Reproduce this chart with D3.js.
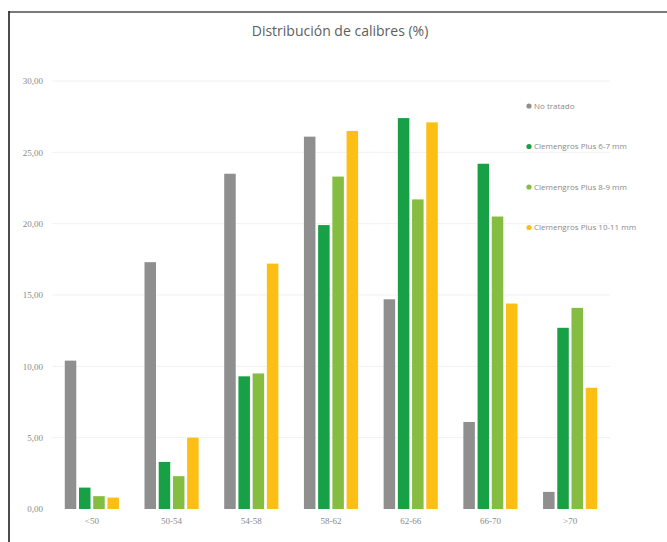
<!DOCTYPE html>
<html>
<head>
<meta charset="utf-8">
<script src="https://cdn.jsdelivr.net/npm/d3@7"></script>
<style>
  html, body { margin: 0; padding: 0; background: #fff; }
  svg { display: block; }
</style>
</head>
<body>
<svg id="chart" width="667" height="542"></svg>
<script>
// Calibre classes (mm)
const categories = ["<50", "50-54", "54-58", "58-62", "62-66", "66-70", ">70"];

// Series names and colours
const seriesNames = [
  "No tratado",
  "Clemengros Plus 6-7 mm",
  "Clemengros Plus 8-9 mm",
  "Clemengros Plus 10-11 mm"
];
const seriesColors = ["#8f8f8f", "#17a045", "#84bd3f", "#fdbf14"];

// Percentage of fruit in each calibre class, per treatment
const noTratado = [10.4, 17.3, 23.5, 26.1, 14.7, 6.1, 1.2];
const plus67    = [1.5, 3.3, 9.3, 19.9, 27.4, 24.2, 12.7];
const plus89    = [0.9, 2.3, 9.5, 23.3, 21.7, 20.5, 14.1];
const plus1011  = [0.8, 5.0, 17.2, 26.5, 27.1, 14.4, 8.5];

const yTicks = [0, 5, 10, 15, 20, 25, 30];

const seriesValues = [noTratado, plus67, plus89, plus1011];

const svg = d3.select("#chart");
const W = 667, H = 542;

// Frame lines
svg.append("line").attr("x1", 9).attr("x2", W).attr("y1", 12).attr("y2", 12)
  .attr("stroke", "#7a7a7a").attr("stroke-width", 2);
svg.append("line").attr("x1", 9).attr("x2", 9).attr("y1", 11).attr("y2", H)
  .attr("stroke", "#111").attr("stroke-width", 1.5);

// Title
svg.append("text")
  .attr("x", 340).attr("y", 36)
  .attr("text-anchor", "middle")
  .attr("font-family", "'Open Sans', 'Noto Sans', sans-serif")
  .attr("font-size", 14)
  .attr("fill", "#5e5e5e")
  .text("Distribución de calibres (%)");

const x0 = d3.scaleBand().domain(categories).range([52, 610]).padding(0);
const groupW = 57;
const x1 = d3.scaleBand().domain(d3.range(seriesNames.length))
  .range([x0.bandwidth() / 2 - groupW / 2, x0.bandwidth() / 2 + groupW / 2])
  .paddingInner(0.19).paddingOuter(0.1);

const y = d3.scaleLinear().domain([0, 30]).range([509, 81]);

const fmt = v => d3.format(".2f")(v).replace(".", ",");

// Faint gridlines
svg.append("g")
  .selectAll("line")
  .data(yTicks.slice(1))
  .join("line")
  .attr("x1", 52).attr("x2", 610)
  .attr("y1", d => y(d)).attr("y2", d => y(d))
  .attr("stroke", "#f1f1f1").attr("stroke-width", 1);

// Y axis labels
const yAxis = d3.axisLeft(y).tickValues(yTicks).tickFormat(fmt).tickSize(0).tickPadding(0);
const gy = svg.append("g").attr("transform", "translate(43,0)").call(yAxis);
gy.select(".domain").remove();
gy.selectAll("text")
  .attr("font-family", "'Liberation Serif', serif")
  .attr("font-size", 9)
  .attr("fill", "#8a8a8a");

// Bars
const groups = svg.append("g")
  .selectAll("g")
  .data(categories)
  .join("g")
  .attr("transform", d => `translate(${x0(d)},0)`);

groups.selectAll("rect")
  .data((c, i) => seriesValues.map((s, k) => ({ k, v: s[i] })))
  .join("rect")
  .attr("x", d => x1(d.k))
  .attr("width", x1.bandwidth())
  .attr("y", d => y(d.v))
  .attr("height", d => y(0) - y(d.v))
  .attr("fill", d => seriesColors[d.k]);

// X axis labels
const xAxis = d3.axisBottom(x0).tickSize(0).tickPadding(0);
const gx = svg.append("g").attr("transform", "translate(0,518)").call(xAxis);
gx.select(".domain").remove();
gx.selectAll("text")
  .attr("font-family", "'Liberation Serif', serif")
  .attr("font-size", 9)
  .attr("fill", "#8a8a8a");

// Legend
const legend = svg.append("g")
  .selectAll("g")
  .data(seriesNames)
  .join("g")
  .attr("transform", (d, i) => `translate(529,${106 + i * 40.5})`);
legend.append("circle").attr("r", 2.6).attr("fill", (d, i) => seriesColors[i]);
legend.append("text")
  .attr("x", 5).attr("dy", "0.35em")
  .attr("font-family", "'Open Sans', sans-serif")
  .attr("font-size", 8)
  .attr("fill", "#8a8a8a")
  .text(d => d);
</script>
</body>
</html>
